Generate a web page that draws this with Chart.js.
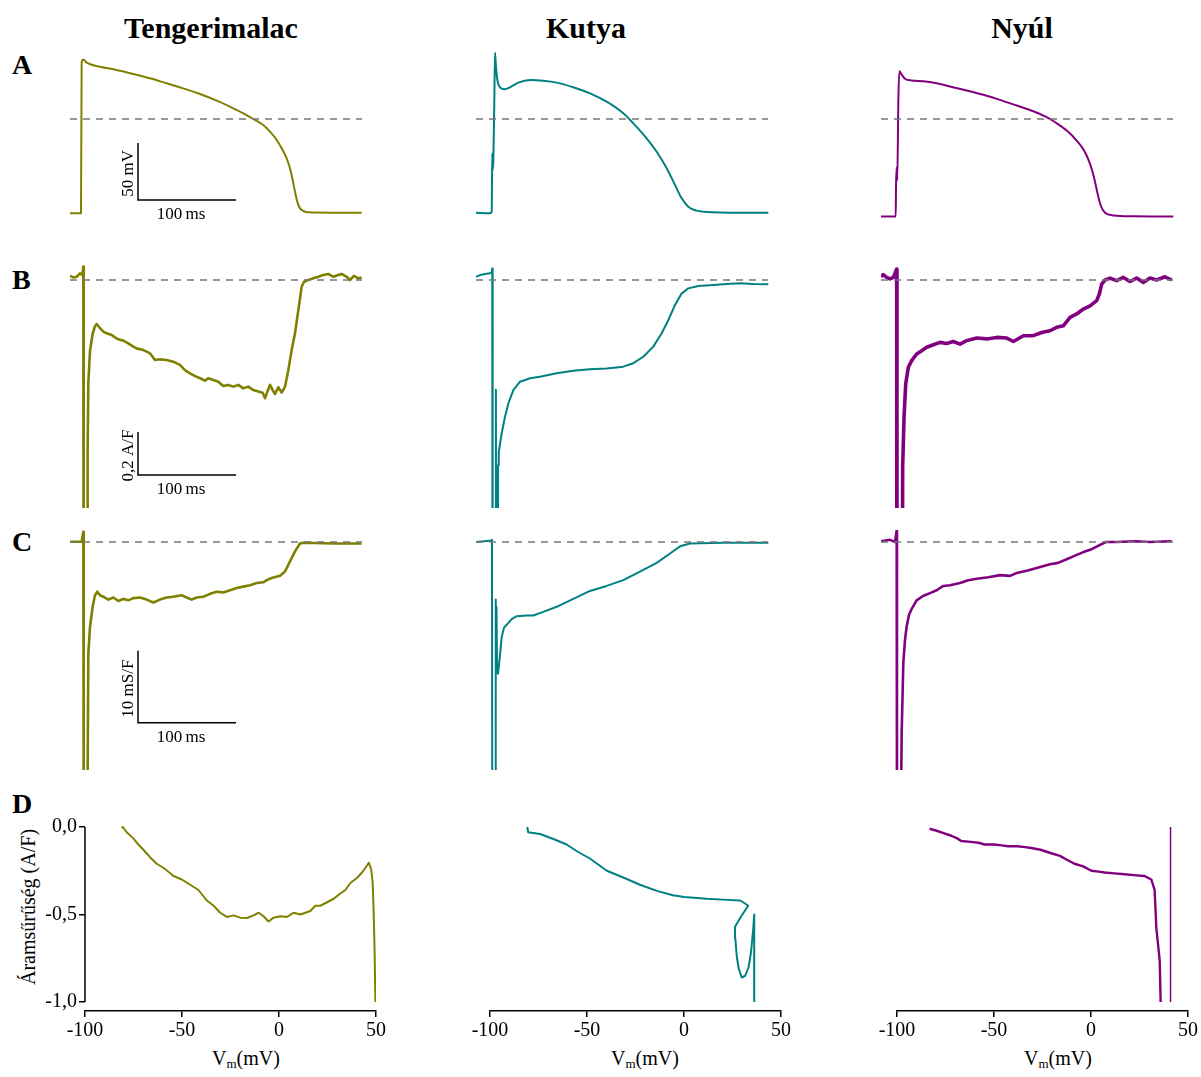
<!DOCTYPE html>
<html>
<head>
<meta charset="utf-8">
<title>Akciós potenciál, áram és konduktancia</title>
<script src="https://cdn.jsdelivr.net/npm/chart.js@4.4.1/dist/chart.umd.min.js"></script>
<style>
  html, body { margin: 0; padding: 0; background: #fff; overflow: hidden; }
  body { width: 1201px; height: 1077px; position: relative;
         font-family: "Liberation Serif", "Times New Roman", serif; color: #000; }
  canvas { position: absolute; }
  .title { position: absolute; width: 400px; text-align: center; font-weight: bold;
           font-size: 30px; line-height: 30px; white-space: nowrap; }
  .letter { position: absolute; left: 12px; font-weight: bold; font-size: 28px;
            line-height: 28px; }
  .vm { position: absolute; font-size: 20px; line-height: 20px; white-space: nowrap; }
  .vm sub { font-size: 13px; line-height: 0; vertical-align: -3px; }
  .ytitle { position: absolute; font-size: 20px; line-height: 20px; white-space: nowrap;
            transform: translate(-50%, -50%) rotate(-90deg); }
</style>
</head>
<body>

<div class="title" style="left:11px; top:13px;">Tengerimalac</div>
<div class="title" style="left:386px; top:13px;">Kutya</div>
<div class="title" style="left:822px; top:13px;">Nyúl</div>

<div class="letter" style="top:50.5px;">A</div>
<div class="letter" style="top:265.5px;">B</div>
<div class="letter" style="top:528px;">C</div>
<div class="letter" style="top:789.5px;">D</div>

<div class="vm" style="left:212px; top:1048px;">V<sub>m</sub>(mV)</div>
<div class="vm" style="left:611px; top:1048px;">V<sub>m</sub>(mV)</div>
<div class="vm" style="left:1024px; top:1048px;">V<sub>m</sub>(mV)</div>
<div class="ytitle" style="left:28px; top:907px;">Áramsűrűség (A/F)</div>

<script>
// ---------------------------------------------------------------
// Data: [time (ms), value] for the action potential, current and
// conductance traces; [Vm (mV), current density (A/F)] for the I–V loops.
// ---------------------------------------------------------------

// A – action potentials (mV)
const apGuineaPig = [[0,-82.7],[11.2,-82.7],[11.9,50.3],[13.6,52.3],[17.0,49.4],[30.6,45.9],[47.6,43.0],[64.6,39.5],[81.6,35.7],[98.6,31.3],[115.6,26.9],[132.7,21.9],[149.7,16.1],[166.7,9.4],[176.9,5.0],[187.1,0],[197.2,-5.3],[204.1,-11.1],[210.9,-18.4],[216,-25.7],[221.1,-34.5],[224.5,-43.3],[227.2,-53.5],[229.6,-63.8],[231.9,-72.5],[234.7,-78.4],[238.1,-80.7],[243.2,-81.9],[268.7,-82.2],[297.6,-82.2]];
const apDog = [[0,-82.2],[14.3,-82.7],[16.0,-81.3],[16.6,-30],[17.0,-45],[17.7,-36],[18.7,16.7],[19.4,58.2],[20.4,45.9],[21.8,34.2],[24.5,27.8],[29.6,26.0],[34.7,27.8],[43.2,31.9],[55.1,34.2],[68.7,33.6],[82.3,31.9],[99.3,27.8],[116.3,22.5],[133.3,15.2],[150.3,5.0],[160.5,-3.8],[174.1,-16.9],[184.4,-28.7],[194.6,-43.2],[203.1,-57.9],[209.9,-69.6],[216.6,-76.9],[225.2,-80.4],[235.4,-81.6],[269.4,-82.2],[298.3,-82.2]];
const apRabbit = [[0,-85.5],[15.0,-85.5],[15.3,-59.8],[16.0,-42.3],[16.6,-54],[17.7,16.2],[18.7,41.9],[21.1,39.0],[24.5,35.3],[31.3,33.8],[43.2,33.2],[56.8,31.4],[70.4,28.5],[87.4,25.0],[104.4,21.2],[121.4,16.8],[138.5,11.8],[155.4,6.8],[169.1,1.6],[179.3,-3.7],[189.5,-10.1],[199.7,-18.9],[208.2,-29.1],[213.3,-39.3],[217.3,-51],[220.7,-64.2],[224.2,-75.9],[228.6,-82.3],[237.1,-84.6],[257.5,-85.3],[298.3,-85.5]];

// B – current density (A/F)
const iGuineaPig = [[0,0.019],[3.4,0.012],[6.8,0.015],[10.2,0.031],[12.6,0.023],[13.6,0.062],[14.0,-3],[17.7,-3],[18.0,-0.79],[18.7,-0.48],[20.4,-0.33],[23.1,-0.25],[25.5,-0.214],[27.2,-0.205],[29.9,-0.22],[34,-0.24],[37.4,-0.248],[42.5,-0.256],[45.9,-0.267],[49.3,-0.276],[54.4,-0.282],[59.5,-0.295],[64.6,-0.31],[68,-0.318],[74.8,-0.326],[78.2,-0.333],[81.6,-0.341],[86.7,-0.372],[91.8,-0.369],[98.6,-0.372],[105.4,-0.38],[112.2,-0.395],[117.3,-0.419],[122.4,-0.434],[127.6,-0.447],[132.7,-0.457],[137.8,-0.468],[141.1,-0.457],[146.3,-0.465],[151.4,-0.473],[156.4,-0.493],[161.5,-0.488],[166.6,-0.496],[171.7,-0.488],[176.8,-0.504],[181.9,-0.496],[187.1,-0.512],[192.2,-0.519],[196.6,-0.524],[199,-0.55],[201.4,-0.519],[204.1,-0.488],[206.8,-0.512],[209.2,-0.53],[212.6,-0.499],[216,-0.524],[219.4,-0.496],[222.8,-0.419],[226.2,-0.326],[229.6,-0.248],[233,-0.14],[236.4,-0.031],[238.8,-0.008],[243.2,0],[248.3,0.008],[253.4,0.015],[258.5,0.023],[263.6,0.028],[268.7,0.015],[273.8,0.023],[277.2,0.028],[282.3,0.015],[285.7,0],[289.8,0.019],[294.2,0.008],[297.6,0.012]];
const iDog = [[0,0.015],[4.1,0.023],[9.2,0.028],[14.3,0.031],[16.0,0.034],[16.6,0.054],[17.0,-3],[20.0,-3],[20.3,-0.51],[20.8,-3],[22.0,-3],[22.5,-0.86],[23.2,-0.80],[26.2,-0.713],[29.6,-0.636],[33,-0.574],[38.1,-0.512],[44.9,-0.473],[55.1,-0.457],[65.3,-0.45],[82.3,-0.434],[99.3,-0.422],[116.3,-0.415],[133.3,-0.412],[150.3,-0.403],[160.5,-0.387],[170.7,-0.357],[180.9,-0.31],[189.5,-0.248],[196.3,-0.186],[203.1,-0.116],[209.9,-0.062],[216.6,-0.039],[226.8,-0.028],[242.1,-0.023],[255.8,-0.019],[269.4,-0.015],[283,-0.019],[298.3,-0.02]];
const iRabbit = [[0,0.015],[2.3,0.025],[5.8,0.012],[9.2,0.005],[12.6,0.012],[16.0,0.051],[16.3,-3],[21.1,-3],[22.1,-0.87],[23.5,-0.64],[25.2,-0.484],[27.9,-0.406],[31.3,-0.375],[36.4,-0.344],[41.5,-0.329],[46.6,-0.313],[53.4,-0.301],[60.2,-0.29],[67,-0.295],[73.8,-0.286],[80.6,-0.298],[87.4,-0.282],[97.7,-0.27],[107.9,-0.274],[118.1,-0.267],[128.3,-0.27],[135.1,-0.286],[145.3,-0.259],[155.4,-0.259],[164,-0.244],[172.4,-0.236],[179.3,-0.22],[186,-0.213],[192.9,-0.174],[199.7,-0.158],[206.5,-0.135],[213.3,-0.12],[220.1,-0.096],[222.8,-0.065],[225.2,-0.019],[228.6,0],[233.7,0.009],[240.5,-0.003],[247.3,0.012],[254.1,-0.007],[260.9,0.009],[267.7,-0.011],[274.5,0.009],[281.3,0],[289.8,0.015],[296.6,0]];

// C – conductance (mS/F)
const gGuineaPig = [[0,0.04],[11.9,0.04],[13.6,1.43],[14.0,-40],[17.7,-40],[18.7,-15.5],[20.4,-11.8],[23.1,-9.0],[25.5,-7.4],[27.9,-6.9],[30.6,-7.4],[34,-7.6],[39.1,-8.0],[44.2,-7.7],[49.3,-8.2],[54.4,-7.9],[59.5,-8.1],[64.6,-7.8],[71.4,-7.7],[78.2,-8.0],[85,-8.4],[91.8,-8.0],[98.6,-7.7],[105.4,-7.6],[113.9,-7.4],[119,-7.7],[124.1,-8.0],[129.3,-7.7],[136,-7.6],[142.9,-7.2],[149.7,-6.9],[156.4,-7.0],[163.3,-6.7],[170.1,-6.4],[176.8,-6.2],[183.7,-6.0],[190.5,-5.7],[197.2,-5.6],[200.7,-5.3],[205.8,-5.0],[214.3,-4.7],[219.4,-4.1],[224.5,-2.7],[229.6,-1.3],[234.7,-0.2],[238.1,-0.1],[268.7,-0.2],[297.6,-0.2]];
const gDog = [[0,0],[16.0,0.2],[16.3,0.3],[16.6,-40],[19.4,-40],[19.9,-8],[20.4,-14],[20.9,-9],[21.5,-18],[22.5,-18.3],[24.5,-15.7],[26.2,-13.2],[28.6,-11.9],[31.3,-11.5],[36.4,-10.7],[41.5,-10.3],[51.7,-10.2],[58.5,-10.2],[68.7,-9.7],[82.3,-9.0],[99.3,-7.9],[116.3,-6.8],[133.3,-6.1],[150.3,-5.3],[167.3,-4.1],[184.4,-2.9],[198,-1.6],[208.2,-0.6],[218.4,-0.2],[252.3,-0.1],[298.3,-0.1]];
const gRabbit = [[0,0.1],[9.2,0.3],[14.3,0],[16.0,1.6],[16.3,-40],[20.1,-40],[21.1,-26.5],[22.8,-16.7],[24.5,-13.6],[26.2,-11.7],[28.6,-10.1],[31.3,-9.3],[36.4,-8.1],[42.9,-7.5],[50,-7.1],[56.8,-6.7],[63.6,-6.1],[70.4,-6.0],[80.6,-5.7],[89.1,-5.3],[97.7,-5.1],[109.5,-4.9],[121.4,-4.6],[131.6,-4.7],[138.5,-4.3],[148.7,-4.0],[158.9,-3.6],[172.4,-3.1],[180.6,-2.9],[189.5,-2.4],[198,-1.9],[206.5,-1.4],[215,-1.0],[223.5,-0.4],[229.6,0],[240.5,0],[259.2,0.1],[274.5,0],[296.6,0.1]];

// D – current density against membrane potential
const ivGuineaPig = [[-81.1,-0.006],[-80.5,0.0],[-78.5,-0.03],[-75.1,-0.065],[-72.5,-0.10],[-69.9,-0.13],[-66.4,-0.174],[-63,-0.21],[-58.7,-0.24],[-54.4,-0.28],[-50.1,-0.30],[-45.8,-0.33],[-41.5,-0.36],[-37.2,-0.42],[-33.7,-0.45],[-30.3,-0.49],[-26.9,-0.514],[-23.4,-0.505],[-20,-0.518],[-16.5,-0.52],[-13.1,-0.505],[-10.5,-0.49],[-8,-0.51],[-5.4,-0.54],[-2.8,-0.518],[0.7,-0.51],[4.1,-0.514],[7.5,-0.49],[11,-0.50],[16.2,-0.48],[18.7,-0.45],[21.3,-0.45],[24.8,-0.43],[28.2,-0.41],[31.6,-0.38],[34.2,-0.36],[36.8,-0.32],[40.3,-0.29],[42.8,-0.26],[45.4,-0.22],[46.3,-0.204],[47.5,-0.24],[48.3,-0.32],[48.8,-0.49],[49.3,-0.72],[49.7,-1.0]];
const ivDog = [[36.2,-1.0],[36.2,-0.50],[35.7,-0.58],[34.6,-0.71],[33.3,-0.80],[31.6,-0.85],[29.8,-0.86],[28.2,-0.81],[27.2,-0.74],[26.5,-0.64],[26.3,-0.57],[29.5,-0.51],[33.1,-0.45],[30.5,-0.43],[28.9,-0.42],[20,-0.415],[11.7,-0.41],[0,-0.40],[-5.7,-0.39],[-14,-0.365],[-22.7,-0.33],[-31,-0.29],[-39.8,-0.25],[-48.5,-0.18],[-55,-0.14],[-60.5,-0.10],[-67,-0.07],[-74.2,-0.04],[-80.3,-0.03],[-80.8,0]];
const ivRabbit = [[-83.2,-0.01],[-80,-0.02],[-76,-0.035],[-72,-0.05],[-69,-0.065],[-66.9,-0.08],[-62,-0.085],[-58,-0.09],[-54.8,-0.10],[-50,-0.10],[-46,-0.105],[-42.8,-0.11],[-38,-0.11],[-34,-0.115],[-30.8,-0.12],[-26,-0.13],[-20.5,-0.15],[-16,-0.165],[-13.6,-0.18],[-8.5,-0.21],[-4,-0.225],[0.2,-0.25],[4,-0.255],[7,-0.26],[12,-0.265],[17.3,-0.27],[22,-0.275],[27.6,-0.28],[31.1,-0.30],[32.8,-0.36],[33.7,-0.58],[35.4,-0.76],[35.9,-1.0]];
const ivRabbitUpstroke = [[41,-1.0],[41,0.0]];

// Zero reference for the time traces
const zeroLine = [[0,0],[298,0]];

// Axis ticks of the I–V panels
const vmTicks = [-100, -50, 0, 50];
const densityTicks = [-1.0, -0.5, 0.0];

// ---------------------------------------------------------------
// Layout and styling
// ---------------------------------------------------------------
const speciesColors = ['#808000', '#008080', '#800080'];
const traceLeft = [70, 476, 881];        // px where t = 0 for each column
const pxPerMs = 0.98;
const traceSpanMs = 300;
const rowGeom = {
  ap:   { zeroY: 119, pxPerUnit: 1.14, min: -95,   max: 65 },
  cur:  { zeroY: 280, pxPerUnit: 215,  min: -1.06, max: 0.08 },
  cond: { zeroY: 542, pxPerUnit: 7.2,  min: -31.7, max: 1.7 }
};
const scaleBars = {
  ap:   { t0: 69.4, dt: 100, v0: -71,    dv: 50,  vLabel: '50 mV',   hLabel: '100\u2009ms' },
  cur:  { t0: 69.4, dt: 100, v0: -0.907, dv: 0.2, vLabel: '0,2 A/F', hLabel: '100\u2009ms' },
  cond: { t0: 69.4, dt: 100, v0: -25.1,  dv: 10,  vLabel: '10 mS/F', hLabel: '100\u2009ms' }
};

Chart.defaults.font.family = '"Liberation Serif", "Times New Roman", serif';
Chart.defaults.color = '#000';

const toXY = pairs => pairs.map(p => ({ x: p[0], y: p[1] }));

function addCanvas(left, top, width, height) {
  const c = document.createElement('canvas');
  c.width = width; c.height = height;
  c.style.left = left + 'px'; c.style.top = top + 'px';
  c.style.width = width + 'px'; c.style.height = height + 'px';
  document.body.appendChild(c);
  return c;
}

// Scale bars (drawn in data units of the panel)
const scaleBarPlugin = {
  id: 'scaleBar',
  afterDatasetsDraw(chart, args, opts) {
    if (!opts || !opts.vLabel) return;
    const { ctx } = chart;
    const xs = chart.scales.x, ys = chart.scales.y;
    const x0 = xs.getPixelForValue(opts.t0), x1 = xs.getPixelForValue(opts.t0 + opts.dt);
    const y0 = ys.getPixelForValue(opts.v0), y1 = ys.getPixelForValue(opts.v0 + opts.dv);
    ctx.save();
    ctx.strokeStyle = '#000';
    ctx.lineWidth = 1.5;
    ctx.beginPath();
    ctx.moveTo(x0, y1); ctx.lineTo(x0, y0); ctx.lineTo(x1, y0);
    ctx.stroke();
    ctx.fillStyle = '#000';
    ctx.font = '17px "Liberation Serif", "Times New Roman", serif';
    ctx.textAlign = 'center';
    ctx.textBaseline = 'alphabetic';
    ctx.fillText(opts.hLabel, (x0 + x1) / 2 - 6, y0 + 19);
    ctx.translate(x0 - 5, (y0 + y1) / 2 + 2);
    ctx.rotate(-Math.PI / 2);
    ctx.fillText(opts.vLabel, 0, 0);
    ctx.restore();
  }
};

// Vertical axis line of the I–V panel, spanning the tick range only
const yAxisLinePlugin = {
  id: 'yAxisLine',
  afterDraw(chart, args, opts) {
    if (!opts || !opts.show) return;
    const ys = chart.scales.y;
    const x = chart.chartArea.left;
    const { ctx } = chart;
    ctx.save();
    ctx.strokeStyle = '#000';
    ctx.lineWidth = 1.5;
    ctx.beginPath();
    ctx.moveTo(x, ys.getPixelForValue(densityTicks[densityTicks.length - 1]));
    ctx.lineTo(x, ys.getPixelForValue(densityTicks[0]));
    ctx.stroke();
    ctx.restore();
  }
};

function traceChart(col, rowKey, series, lineWidth, smooth, withBar) {
  const g = rowGeom[rowKey];
  const top = Math.round(g.zeroY - g.max * g.pxPerUnit);
  const height = Math.round(g.zeroY - g.min * g.pxPerUnit) - top;
  const yMax = (g.zeroY - top) / g.pxPerUnit;
  const yMin = yMax - height / g.pxPerUnit;
  const width = Math.round(traceSpanMs * pxPerMs);
  const canvas = addCanvas(traceLeft[col], top, width, height);
  new Chart(canvas, {
    type: 'line',
    data: {
      datasets: [
        { data: toXY(zeroLine), borderColor: '#777777', borderWidth: 1.6,
          borderDash: [7, 6], pointRadius: 0 },
        { data: toXY(series), borderColor: speciesColors[col], borderWidth: lineWidth,
          pointRadius: 0, cubicInterpolationMode: smooth ? 'monotone' : 'default',
          tension: 0, borderJoinStyle: 'round' }
      ]
    },
    options: {
      responsive: false, animation: false, devicePixelRatio: 1, events: [],
      layout: { padding: 0 },
      scales: {
        x: { type: 'linear', display: false, min: 0, max: width / pxPerMs },
        y: { type: 'linear', display: false, min: yMin, max: yMax }
      },
      plugins: { legend: { display: false }, tooltip: { enabled: false },
                 scaleBar: withBar ? scaleBars[rowKey] : {} }
    },
    plugins: [scaleBarPlugin]
  });
}

// Rows A–C
const apSeries = [apGuineaPig, apDog, apRabbit];
const curSeries = [iGuineaPig, iDog, iRabbit];
const condSeries = [gGuineaPig, gDog, gRabbit];
const curWidths = [2.6, 2, 3.6];
const condWidths = [2.6, 2, 2.6];
for (let c = 0; c < 3; c++) {
  traceChart(c, 'ap', apSeries[c], 2, true, c === 0);
  traceChart(c, 'cur', curSeries[c], curWidths[c], false, c === 0);
  traceChart(c, 'cond', condSeries[c], condWidths[c], false, c === 0);
}

// Row D – I–V panels
const ivAxisLeft = [85, 490, 897];   // px of Vm = -100
const ivPxPerMv = 1.94;
const ivZeroY = 827, ivPxPerUnit = 175;
const ivTop = 800, ivHeight = 277, ivPadTop = 22, ivAreaH = 189, ivXAxisH = 50;

function ivChart(col, datasets, showY) {
  const padLeft = showY ? 0 : 40;
  const yAxisW = showY ? ivAxisLeft[0] : 0;
  const padRight = col === 2 ? 12 : 24;
  const areaW = Math.round(150 * ivPxPerMv);
  const left = ivAxisLeft[col] - padLeft - yAxisW;
  const width = padLeft + yAxisW + areaW + padRight;
  const yMax = (ivZeroY - (ivTop + ivPadTop)) / ivPxPerUnit;
  const yMin = yMax - ivAreaH / ivPxPerUnit;
  const canvas = addCanvas(left, ivTop, width, ivHeight);
  new Chart(canvas, {
    type: 'line',
    data: { datasets },
    options: {
      responsive: false, animation: false, devicePixelRatio: 1, events: [],
      layout: { padding: { left: padLeft, right: padRight, top: ivPadTop,
                           bottom: ivHeight - ivPadTop - ivAreaH - ivXAxisH } },
      scales: {
        x: {
          type: 'linear', min: -100, max: 50, position: 'bottom',
          afterBuildTicks: s => { s.ticks = vmTicks.map(v => ({ value: v })); },
          afterFit: s => { s.height = ivXAxisH; },
          grid: { display: true, drawOnChartArea: false, drawTicks: true, tickLength: 6,
                  color: '#000', lineWidth: 1.5 },
          border: { display: true, color: '#000', width: 1.5 },
          ticks: { color: '#000', font: { size: 20 }, padding: 2, maxRotation: 0,
                   autoSkip: false, callback: v => String(v) }
        },
        y: {
          type: 'linear', min: yMin, max: yMax, display: showY,
          afterBuildTicks: s => { s.ticks = densityTicks.map(v => ({ value: v })); },
          afterFit: s => { s.width = yAxisW; },
          grid: { display: true, drawOnChartArea: false, drawTicks: true, tickLength: 6,
                  color: '#000', lineWidth: 1.5 },
          border: { display: false },
          ticks: { color: '#000', font: { size: 20 }, padding: 2, autoSkip: false,
                   callback: v => v.toFixed(1).replace('.', ',') }
        }
      },
      plugins: { legend: { display: false }, tooltip: { enabled: false },
                 yAxisLine: { show: showY } }
    },
    plugins: [yAxisLinePlugin]
  });
}

const ivLine = (pairs, color, w) => ({ data: toXY(pairs), borderColor: color, borderWidth: w,
                                        pointRadius: 0, tension: 0, borderJoinStyle: 'round' });
ivChart(0, [ivLine(ivGuineaPig, speciesColors[0], 2)], true);
ivChart(1, [ivLine(ivDog, speciesColors[1], 2)], false);
ivChart(2, [ivLine(ivRabbit, speciesColors[2], 2.4), ivLine(ivRabbitUpstroke, speciesColors[2], 1.5)], false);
</script>
</body>
</html>
